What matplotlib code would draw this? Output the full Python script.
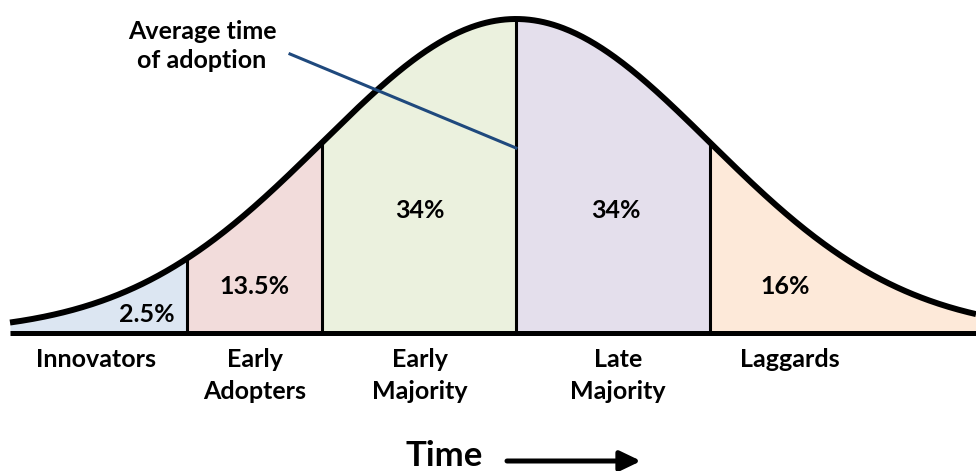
import numpy as np
import matplotlib
matplotlib.use("Agg")
import matplotlib.pyplot as plt

# segments of the adoption curve (edges in picture x units)
categories = ["Innovators", "Early\nAdopters", "Early\nMajority", "Late\nMajority", "Laggards"]
shares = ["2.5%", "13.5%", "34%", "34%", "16%"]
edges = [10, 187, 322, 516, 710, 976]
colors = ["#dce6f2", "#f2dcdb", "#ebf1de", "#e4dfec", "#fde9d9"]

# bell shape
mean_x = 516
sigma_x = 194
baseline_y = 333
peak_y = 19

plt.rcParams['font.family'] = ['Lato', 'DejaVu Sans']

fig = plt.figure(figsize=(9.76, 4.71), dpi=100)
ax = fig.add_axes([0, 0, 1, 1])
ax.set_xlim(0, 976)
ax.set_ylim(471, 0)
ax.axis("off")


def curve(x):
   return baseline_y - (baseline_y - peak_y) * np.exp(-0.5 * ((x - mean_x) / sigma_x) ** 2)


# filled segments
for i in range(len(categories)):
   xs = np.linspace(edges[i], edges[i + 1], 200)
   ax.fill_between(xs, curve(xs), baseline_y, color=colors[i], lw=0, zorder=1)

# dividers
for e in edges[1:-1]:
   ax.plot([e, e], [baseline_y, curve(e)], color="black", lw=2.2, zorder=2)

# curve and baseline
xs = np.linspace(edges[0], edges[-1], 600)
ax.plot(xs, curve(xs), color="black", lw=4.3, zorder=3, solid_capstyle="butt")
ax.plot([edges[0], edges[-1]], [baseline_y, baseline_y], color="black", lw=3.6, zorder=3,
        solid_capstyle="butt")

# percentages
share_pos = [(147, 315), (254, 287), (420, 210), (616, 210), (785, 287)]
for s, (px, py) in zip(shares, share_pos):
   ax.text(px, py, s, ha="center", va="center", fontsize=18, fontweight="bold", zorder=4)

# category names
label_x = [96, 255, 420, 618, 790]
for c, px in zip(categories, label_x):
   ax.text(px, 348, c, ha="center", va="top", fontsize=18, fontweight="bold",
           linespacing=1.45)

# average time annotation
ax.plot([290, 516], [54, 148], color="#1f497d", lw=2.2, zorder=5)
ax.text(202, 46, "Average time\nof adoption", ha="center", va="center", fontsize=18,
        fontweight="bold", linespacing=1.35)

# time arrow
ax.text(444, 466, "Time", ha="center", va="baseline", fontsize=25, fontweight="bold")
ax.annotate("", xy=(641, 461), xytext=(507, 461),
            arrowprops=dict(arrowstyle="-|>,head_length=1.25,head_width=0.6", color="black",
                            lw=3.6, shrinkA=0, shrinkB=0))

fig.savefig("out.png", dpi=100)
